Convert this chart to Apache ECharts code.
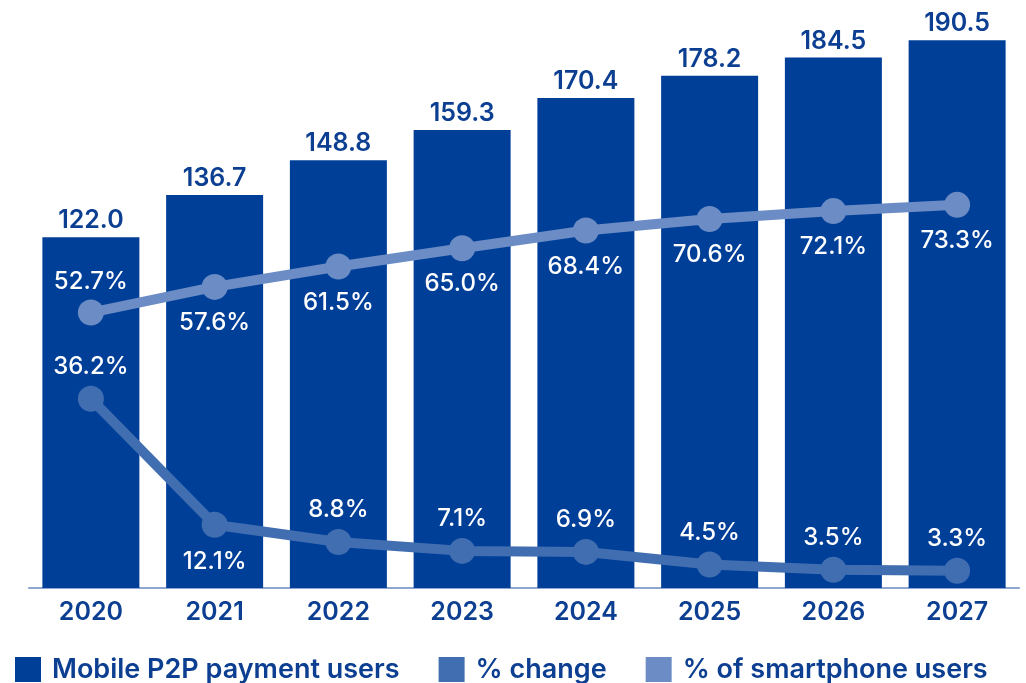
<!DOCTYPE html>
<html>
<head>
<meta charset="utf-8">
<script src="https://cdn.jsdelivr.net/npm/echarts@6/dist/echarts.min.js"></script>
<style>
  html, body { margin: 0; padding: 0; background: #ffffff; }
  #chart { width: 1026px; height: 683px; }
</style>
</head>
<body>
<div id="chart"></div>
<script>
// Mobile P2P payment users (millions), yearly, with growth and smartphone share
const years = ['2020', '2021', '2022', '2023', '2024', '2025', '2026', '2027'];
const p2pUsers = [122.0, 136.7, 148.8, 159.3, 170.4, 178.2, 184.5, 190.5];
const pctChange = [36.2, 12.1, 8.8, 7.1, 6.9, 4.5, 3.5, 3.3];
const pctSmartphone = [52.7, 57.6, 61.5, 65.0, 68.4, 70.6, 72.1, 73.3];

// label side for each point of the two lines
const changeLabelSide = ['top', 'bottom', 'top', 'top', 'top', 'top', 'top', 'top'];
const smartLabelSide = ['top', 'bottom', 'bottom', 'bottom', 'bottom', 'bottom', 'bottom', 'bottom'];

const barColor = '#003f98';
const changeColor = '#406eb1';
const smartColor = '#6b8cc4';
const textColor = '#0c3f91';
const fontFamily = 'Inter, "Open Sans", sans-serif';

const chart = echarts.init(document.getElementById('chart'), null, { renderer: 'canvas' });

function lineData(values, sides, dist) {
  return values.map((v, i) => ({
    value: v,
    label: { position: sides[i], distance: sides[i] === 'top' ? dist.top : dist.bottom }
  }));
}

const lineLabel = {
  show: true,
  color: '#ffffff',
  fontFamily: fontFamily,
  fontSize: 24,
  fontWeight: 500,
  formatter: p => p.value.toFixed(1) + '%'
};

chart.setOption({
  animation: false,
  backgroundColor: '#ffffff',
  grid: { left: 29, right: 7, top: 13, bottom: 95, containLabel: false },
  legend: {
    left: 10,
    top: 651,
    icon: 'rect',
    itemWidth: 26,
    itemHeight: 25,
    itemGap: 39,
    textStyle: {
      color: textColor,
      fontFamily: fontFamily,
      fontSize: 27,
      fontWeight: 600,
      padding: [0, 0, 0, 6]
    },
    data: ['Mobile P2P payment users', '% change', '% of smartphone users']
  },
  xAxis: {
    type: 'category',
    data: years,
    axisLine: { show: true, lineStyle: { color: '#8ea6d0', width: 2 } },
    axisTick: { show: false },
    axisLabel: {
      color: textColor,
      fontFamily: fontFamily,
      fontSize: 25,
      fontWeight: 600,
      margin: 12
    }
  },
  yAxis: [
    { type: 'value', min: 0, max: 200, show: false, splitLine: { show: false } },
    { type: 'value', min: 0, max: 110, show: false, splitLine: { show: false } }
  ],
  series: [
    {
      name: 'Mobile P2P payment users',
      type: 'bar',
      data: p2pUsers,
      barWidth: 97,
      itemStyle: { color: barColor },
      label: {
        show: true,
        position: 'top',
        distance: 4,
        color: textColor,
        fontFamily: fontFamily,
        fontSize: 25,
        fontWeight: 600,
        formatter: p => p.value.toFixed(1)
      },
      z: 1
    },
    {
      name: '% change',
      type: 'line',
      yAxisIndex: 1,
      data: lineData(pctChange, changeLabelSide, { top: 7, bottom: 12 }),
      symbol: 'circle',
      symbolSize: 26,
      lineStyle: { color: changeColor, width: 10 },
      itemStyle: { color: changeColor },
      label: lineLabel,
      z: 3
    },
    {
      name: '% of smartphone users',
      type: 'line',
      yAxisIndex: 1,
      data: lineData(pctSmartphone, smartLabelSide, { top: 6, bottom: 11 }),
      symbol: 'circle',
      symbolSize: 26,
      lineStyle: { color: smartColor, width: 10 },
      itemStyle: { color: smartColor },
      label: lineLabel,
      z: 3
    }
  ]
});
</script>
</body>
</html>
